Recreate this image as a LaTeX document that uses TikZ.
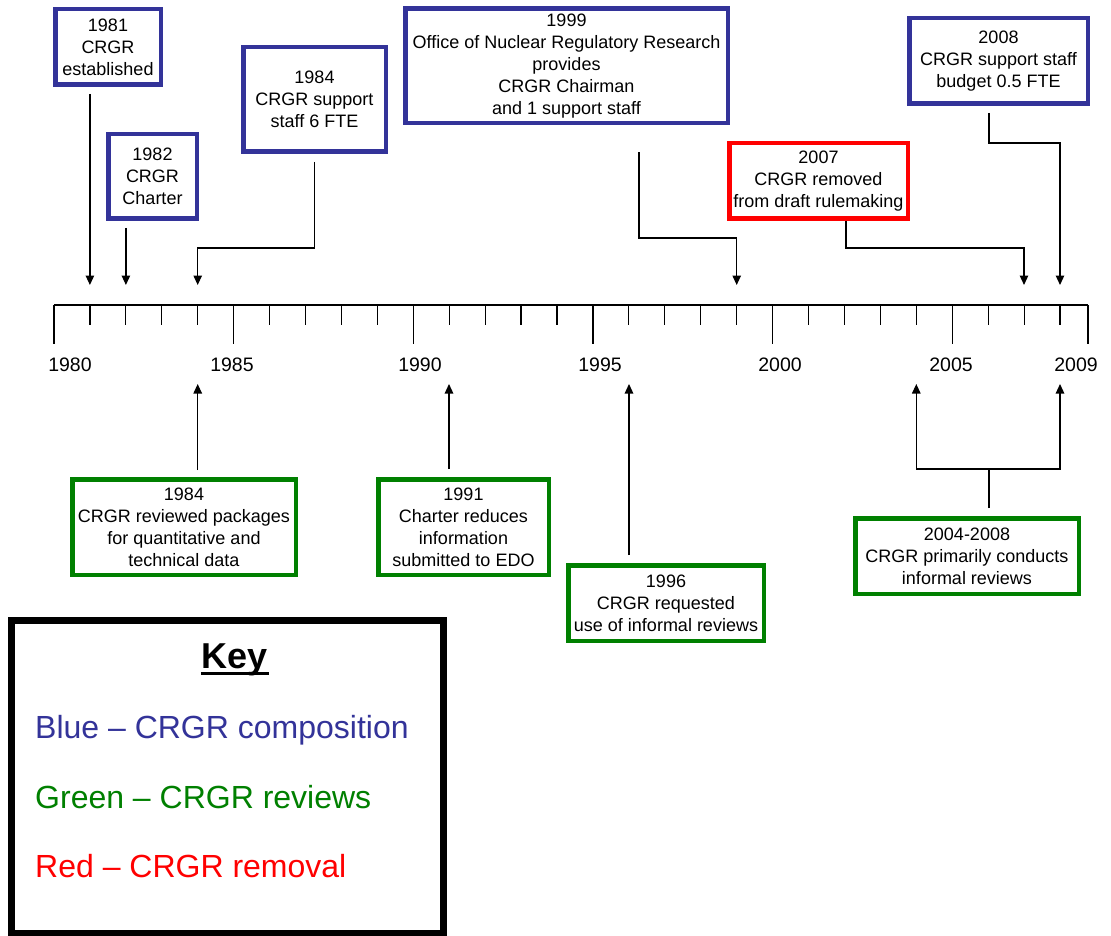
\documentclass[tikz,border=0pt]{standalone}
\usepackage{fontspec}
\setmainfont{Liberation Sans}
\usetikzlibrary{arrows.meta}
\definecolor{cblue}{RGB}{51,51,153}
\definecolor{cgreen}{RGB}{0,128,0}
\definecolor{cred}{RGB}{255,0,0}
\begin{document}
\begin{tikzpicture}[x=1pt,y=-1pt,
  evbox/.style={draw, line width=4.5pt, align=center, inner sep=0pt, font=\fontsize{18}{22}\selectfont, fill=white},
  blbox/.style={evbox, draw=cblue},
  grbox/.style={evbox, draw=cgreen},
  rdbox/.style={evbox, draw=cred},
  conn/.style={line width=1.2pt, draw=black},
  arr/.style={conn, -{Triangle[length=9.5pt,width=8.5pt]}},
  axislbl/.style={font=\fontsize{19.5}{22}\selectfont, inner sep=0pt},
  keytxt/.style={anchor=base west, inner sep=0pt, font=\fontsize{32}{36}\selectfont}]
\useasboundingbox (0,0) rectangle (1111,936);
\fill[white] (0,0) rectangle (1111,936);

% --- event boxes (top, blue / red)
\node[blbox, minimum width=105.5pt, minimum height=75.5pt] (b1981) at (108,47) {1981\\CRGR\\established};
\node[blbox, minimum width=88.5pt, minimum height=84.5pt] (b1982) at (152.5,176.5) {1982\\CRGR\\Charter};
\node[blbox, minimum width=142.5pt, minimum height=104.5pt] (b1984) at (314.5,99.5) {1984\\CRGR support\\staff 6 FTE};
\node[blbox, minimum width=322.5pt, minimum height=114.5pt] (b1999) at (566.5,66) {1999\\Office of Nuclear Regulatory Research\\provides\\CRGR Chairman\\and 1 support staff};
\node[rdbox, minimum width=178.5pt, minimum height=75.5pt] (r2007) at (818.5,181) {2007\\CRGR removed\\from draft rulemaking};
\node[blbox, minimum width=178.5pt, minimum height=85.5pt] (b2008) at (998.5,61) {2008\\CRGR support staff\\budget 0.5 FTE};

% --- event boxes (bottom, green)
\node[grbox, minimum width=223.5pt, minimum height=95.5pt] (g1984) at (184,527) {1984\\CRGR reviewed packages\\for quantitative and\\technical data};
\node[grbox, minimum width=170.5pt, minimum height=95.5pt] (g1991) at (463.5,527) {1991\\Charter reduces\\information\\submitted to EDO};
\node[grbox, minimum width=195.5pt, minimum height=75.5pt] (g1996) at (666,603) {1996\\CRGR requested\\use of informal reviews};
\node[grbox, minimum width=223.5pt, minimum height=75.5pt] (g2004) at (967,556) {2004-2008\\CRGR primarily conducts\\informal reviews};

% --- axis
\coordinate (ax0) at (54,305);
\coordinate (ax1) at (1088,305);
\draw[conn] (ax0) -- (ax1);
\foreach \k in {0,...,28}{
  \pgfmathtruncatemacro\m{mod(\k,5)}
  \ifnum\m=0
    \draw[conn] (54+\k*35.93,305) -- (54+\k*35.93,344);
  \else
    \draw[conn] (54+\k*35.93,305) -- (54+\k*35.93,325);
  \fi
}
\draw[conn] (ax1) -- (1088,344);

\node[axislbl] (l1980) at (70,365) {1980};
\node[axislbl] (l1985) at (232,365) {1985};
\node[axislbl] (l1990) at (420,365) {1990};
\node[axislbl] (l1995) at (600,365) {1995};
\node[axislbl] (l2000) at (780,365) {2000};
\node[axislbl] (l2005) at (951,365) {2005};
\node[axislbl] (l2009) at (1076,365) {2009};

% --- arrow targets on the axis
\coordinate (a1981) at (89.9,285);
\coordinate (a1982) at (125.9,285);
\coordinate (a1984) at (197.7,285);
\coordinate (a1999) at (736.7,285);
\coordinate (a2007) at (1024,285);
\coordinate (a2008) at (1060,285);
\coordinate (u1984) at (197.7,384);
\coordinate (u1991) at (449,384);
\coordinate (u1996) at (629,384);
\coordinate (u2004) at (916.3,384);
\coordinate (u2008) at (1060,384);

% --- elbow points
\coordinate (k1984) at (197.7,248);
\coordinate (k1999) at (736.7,238);
\coordinate (k2007) at (1024,248);
\coordinate (k2008) at (1060,143);
\coordinate (j2004) at (989,469);
\coordinate (h2004) at (916.3,469);
\coordinate (h2008) at (1060,469);

% --- top connectors
\draw[arr, shorten <=7pt] (b1981.south -| a1981) -- (a1981);
\draw[arr, shorten <=7pt] (b1982.south -| a1982) -- (a1982);
\draw[arr, shorten <=8pt] (b1984.south) |- (k1984) -- (a1984);
\draw[arr, shorten <=27pt] ([xshift=72.5pt]b1999.south) |- (k1999) -- (a1999);
\draw[arr] ([xshift=27.5pt]r2007.south) |- (k2007) -- (a2007);
\draw[arr, shorten <=7pt] ([xshift=-9.5pt]b2008.south) |- (k2008) -- (a2008);

% --- bottom connectors
\draw[arr, shorten <=7pt] (g1984.north -| u1984) -- (u1984);
\draw[arr, shorten <=8pt] (g1991.north -| u1991) -- (u1991);
\draw[arr, shorten <=8pt] (g1996.north -| u1996) -- (u1996);
\draw[conn, shorten <=8pt] (g2004.north -| j2004) -- (j2004);
\draw[arr] (j2004) -- (h2004) -- (u2004);
\draw[arr] (j2004) -- (h2008) -- (u2008);

% --- key
\node[draw=black, line width=7pt, minimum width=432pt, minimum height=312.5pt, inner sep=0pt] (key) at (227.5,776.75) {};
\node[anchor=base, inner sep=0pt, font=\bfseries\fontsize{36}{40}\selectfont] (keyt) at (235,668) {Key};
\draw[line width=2.7pt] ([yshift=-5.5pt,xshift=-1pt]keyt.base west) -- ([yshift=-5.5pt,xshift=1pt]keyt.base east);
\node[keytxt, text=cblue] (kblue) at (35,738) {Blue -- CRGR composition};
\node[keytxt, text=cgreen] (kgreen) at (35,808) {Green -- CRGR reviews};
\node[keytxt, text=cred] (kred) at (35,877) {Red -- CRGR removal};
\end{tikzpicture}
\end{document}
